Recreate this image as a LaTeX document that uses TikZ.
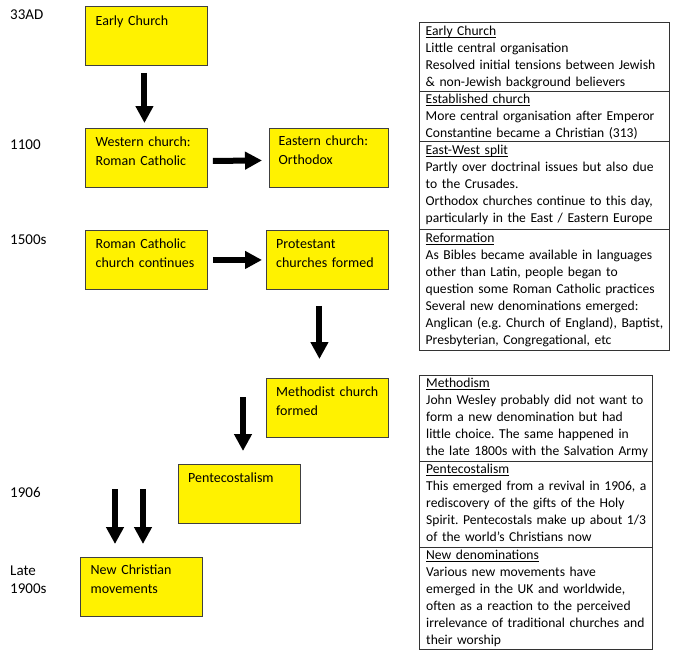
\documentclass[tikz,border=0pt]{standalone}
\usepackage{fontspec}
\setmainfont{Carlito}
\usetikzlibrary{arrows.meta}
\newcommand\hdul[1]{\setbox0=\hbox{#1}\rlap{\rule[-2.6pt]{\wd0}{0.7pt}}\box0}
\begin{document}
\begin{tikzpicture}[x=1pt,y=-1pt,
  ybox/.style={draw=black!75, fill=yellow, line width=0.9pt, anchor=north west,
    inner sep=0pt, minimum width=#1, minimum height=59pt},
  ybox/.default=122pt,
  ytext/.style={anchor=base west, inner sep=0pt, align=left, text width=200pt,
    font=\fontsize{14}{19.3}\selectfont},
  sect/.style={draw=black!80, line width=0.8pt, anchor=north west, inner sep=0pt,
    minimum width=#1},
  stext/.style={anchor=base west, inner sep=0pt, align=left, text width=300pt,
    font=\fontsize{13.6}{17}\selectfont,
    execute at begin node={\frenchspacing}},
  era/.style={anchor=base west, inner sep=0pt, align=left, text width=50pt,
    font=\fontsize{15}{18}\selectfont},
  blk/.style={line width=6pt, -{Triangle[width=17pt,length=17pt]}, black}
]
\useasboundingbox (0,0) rectangle (700,651);

% era labels
\node[era] (e1) at (10,19) {33AD};
\node[era] (e2) at (10,149) {1100};
\node[era] (e3) at (10,244) {1500s};
\node[era] (e4) at (10,497) {1906};
\node[era] (e5) at (10,575) {Late\\1900s};

% yellow boxes
\node[ybox] (early) at (85,6) {};
\node[ybox] (west) at (85,128) {};
\node[ybox=119pt] (east) at (269,127.5) {};
\node[ybox] (rc) at (85,230) {};
\node[ybox] (prot) at (265.5,230) {};
\node[ybox] (meth) at (265.5,378) {};
\node[ybox] (pent) at (177.5,464) {};
\node[ybox] (newc) at (80,557) {};

\node[ytext] (earlyT) at ([xshift=10.5pt,yshift=-19pt]early.north west) {Early Church};
\node[ytext] (westT) at ([xshift=10.5pt,yshift=-18pt]west.north west) {Western church:\\Roman Catholic};
\node[ytext] (eastT) at ([xshift=9.5pt,yshift=-18pt]east.north west) {Eastern church:\\Orthodox};
\node[ytext] (rcT) at ([xshift=10.5pt,yshift=-18pt]rc.north west) {Roman Catholic\\church continues};
\node[ytext] (protT) at ([xshift=10.5pt,yshift=-18pt]prot.north west) {Protestant\\churches formed};
\node[ytext] (methT) at ([xshift=10.5pt,yshift=-18pt]meth.north west) {Methodist church\\formed};
\node[ytext] (pentT) at ([xshift=10.5pt,yshift=-18.5pt]pent.north west) {Pentecostalism};
\node[ytext] (newcT) at ([xshift=10.5pt,yshift=-17.5pt]newc.north west) {New Christian\\movements};

% arrows
\draw[blk] ([xshift=-2pt,yshift=-7pt]early.south) -- ([xshift=-2pt,yshift=5pt]west.north);
\draw[blk] ([xshift=5pt,yshift=-3pt]west.east) -- ([xshift=-7pt,yshift=-3pt]east.west);
\draw[blk] ([xshift=5pt]rc.east) -- ([xshift=-3.5pt]prot.west);
\draw[blk] ([xshift=-7.5pt,yshift=-16pt]prot.south) -- ([xshift=-7.5pt,yshift=19pt]meth.north);
\coordinate (s5) at (243,397);
\draw[blk, shorten >=13pt] (s5) -- (s5 |- pent.north);
\coordinate (s6) at (115,489);
\coordinate (s7) at (143,489);
\draw[blk, shorten >=13pt] (s6) -- (s6 |- newc.north);
\draw[blk, shorten >=13pt] (s7) -- (s7 |- newc.north);

% upper table
\node[sect=250.5pt, minimum height=69pt] (t1) at (418.5,22) {};
\node[sect=250.5pt, minimum height=50pt] (t2) at (418.5,91) {};
\node[sect=250.5pt, minimum height=88pt] (t3) at (418.5,141) {};
\node[sect=250.5pt, minimum height=121pt] (t4) at (418.5,229) {};
\node[stext] (t1T) at ([xshift=7pt,yshift=-13pt]t1.north west) {\hdul{Early Church}\\Little central organisation\\Resolved initial tensions between Jewish\\\& non-Jewish background believers};
\node[stext] (t2T) at ([xshift=7pt,yshift=-12.5pt]t2.north west) {\hdul{Established church}\\More central organisation after Emperor\\Constantine became a Christian (313)};
\node[stext] (t3T) at ([xshift=7pt,yshift=-13pt]t3.north west) {\hdul{East-West split}\\Partly over doctrinal issues but also due\\to the Crusades.\\Orthodox churches continue to this day,\\particularly in the East / Eastern Europe};
\node[stext] (t4T) at ([xshift=7pt,yshift=-13pt]t4.north west) {\hdul{Reformation}\\As Bibles became available in languages\\other than Latin, people began to\\question some Roman Catholic practices\\Several new denominations emerged:\\Anglican (e.g. Church of England), Baptist,\\Presbyterian, Congregational, etc};

% lower table
\node[sect=233pt, minimum height=86pt] (t5) at (419,375) {};
\node[sect=233pt, minimum height=86pt] (t6) at (419,461) {};
\node[sect=233pt, minimum height=102pt] (t7) at (419,547) {};
\node[stext] (t5T) at ([xshift=7pt,yshift=-12.5pt]t5.north west) {\hdul{Methodism}\\John Wesley probably did not want to\\form a new denomination but had\\little choice. The same happened in\\the late 1800s with the Salvation Army};
\node[stext] (t6T) at ([xshift=7pt,yshift=-12.5pt]t6.north west) {\hdul{Pentecostalism}\\This emerged from a revival in 1906, a\\rediscovery of the gifts of the Holy\\Spirit. Pentecostals make up about 1/3\\of the world’s Christians now};
\node[stext] (t7T) at ([xshift=7pt,yshift=-12.5pt]t7.north west) {\hdul{New denominations}\\Various new movements have\\emerged in the UK and worldwide,\\often as a reaction to the perceived\\irrelevance of traditional churches and\\their worship};
\end{tikzpicture}
\end{document}
